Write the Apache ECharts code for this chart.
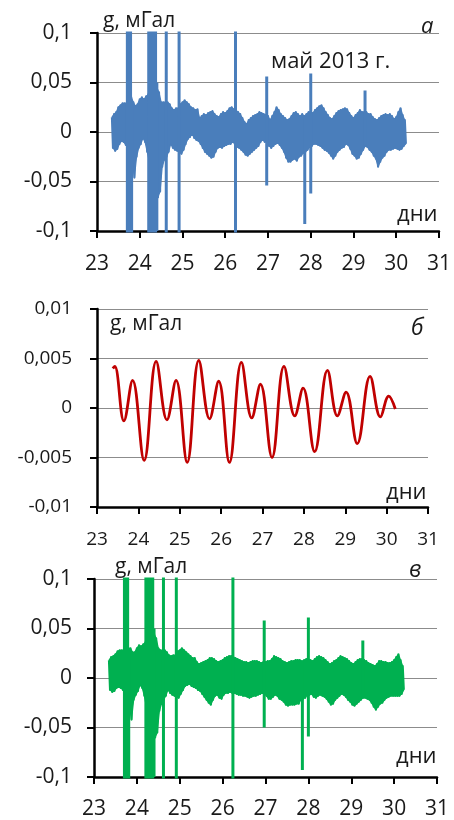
<!DOCTYPE html>
<html><head><meta charset="utf-8">
<script src="https://cdn.jsdelivr.net/npm/echarts@6/dist/echarts.min.js"></script>
<style>html,body{margin:0;padding:0;background:#fff}#c{width:454px;height:820px}</style>
</head><body><div id="c"></div>
<script>
// sampling grid of the noisy records (days, May 2013)
const tStart = 23.35, tStep = 0.05;
// panel а: upper / lower envelope of the raw record (without spikes), mGal
const aHi = [
 0.015,0.018,0.020,0.025,0.027,0.029,0.029,0.029,0.030,0.035,
 0.030,0.026,0.028,0.033,0.035,0.033,0.036,0.038,0.040,0.042,
 0.044,0.045,0.040,0.030,0.030,0.030,0.030,0.028,0.024,0.022,
 0.024,0.024,0.028,0.030,0.032,0.030,0.028,0.025,0.024,0.022,
 0.023,0.014,0.016,0.018,0.017,0.019,0.020,0.021,0.018,0.016,
 0.015,0.018,0.020,0.019,0.021,0.024,0.025,0.023,0.022,0.020,
 0.018,0.014,0.010,0.008,0.012,0.014,0.016,0.017,0.018,0.020,
 0.019,0.018,0.017,0.016,0.012,0.016,0.020,0.025,0.022,0.018,
 0.016,0.014,0.012,0.013,0.016,0.019,0.020,0.018,0.016,0.018,
 0.016,0.018,0.020,0.020,0.019,0.022,0.024,0.026,0.027,0.024,
 0.020,0.017,0.014,0.013,0.016,0.019,0.021,0.022,0.023,0.024,
 0.023,0.019,0.016,0.014,0.017,0.019,0.022,0.020,0.020,0.020,
 0.018,0.018,0.015,0.013,0.012,0.014,0.016,0.017,0.018,0.017,
 0.018,0.016,0.013,0.015,0.020,0.024,0.017,0.012];
const aLo = [
 -0.016,-0.019,-0.017,-0.012,-0.009,-0.010,-0.013,-0.014,-0.015,-0.030,
 -0.046,-0.025,-0.016,-0.012,-0.006,-0.010,-0.020,-0.030,-0.035,-0.040,
 -0.045,-0.066,-0.060,-0.035,-0.028,-0.025,-0.020,-0.012,-0.016,-0.018,
 -0.019,-0.020,-0.022,-0.018,-0.012,-0.007,-0.005,-0.002,-0.006,-0.008,
 -0.009,-0.012,-0.016,-0.020,-0.022,-0.024,-0.026,-0.025,-0.020,-0.016,
 -0.015,-0.016,-0.014,-0.013,-0.012,-0.012,-0.010,-0.012,-0.015,-0.016,
 -0.018,-0.020,-0.023,-0.024,-0.022,-0.020,-0.018,-0.016,-0.014,-0.010,
 -0.008,-0.010,-0.009,-0.014,-0.016,-0.014,-0.012,-0.011,-0.013,-0.016,
 -0.020,-0.026,-0.030,-0.030,-0.028,-0.027,-0.029,-0.025,-0.024,-0.021,
 -0.020,-0.018,-0.015,-0.014,-0.012,-0.012,-0.013,-0.014,-0.016,-0.018,
 -0.019,-0.021,-0.024,-0.027,-0.024,-0.020,-0.018,-0.016,-0.015,-0.012,
 -0.013,-0.017,-0.022,-0.024,-0.027,-0.026,-0.022,-0.018,-0.014,-0.015,
 -0.018,-0.020,-0.024,-0.027,-0.035,-0.030,-0.026,-0.024,-0.020,-0.018,
 -0.018,-0.017,-0.016,-0.017,-0.018,-0.017,-0.014,-0.012];
// panel а: spikes (day, top, bottom)
const aSpikeT  = [23.71,23.735,23.76,23.785,23.81,24.21,24.23,24.25,24.27,24.29,24.31,24.33,24.35,24.37,24.40,24.62,24.92,26.24,26.97,27.86,28.00,29.27];
const aSpikeHi = [0.15,0.15,0.15,0.15,0.03,0.15,0.15,0.15,0.15,0.15,0.15,0.15,0.15,0.15,0.05,0.15,0.15,0.15,0.056,0.016,0.059,0.042];
const aSpikeLo = [-0.15,-0.15,-0.15,-0.15,-0.15,-0.15,-0.15,-0.15,-0.15,-0.15,-0.15,-0.15,-0.15,-0.15,-0.10,-0.15,-0.15,-0.15,-0.054,-0.093,-0.062,-0.014];
// panel б: tidal residual
const bDays = [23.38,23.43,23.65,23.86,24.14,24.43,24.69,24.91,25.18,25.46,25.72,25.94,26.20,26.49,26.74,26.95,27.23,27.52,27.78,27.98,28.26,28.57,28.81,29.02,29.29,29.60,29.85,30.05,30.21];
const bVals = [0.0040,0.0042,-0.0013,0.0028,-0.0053,0.0047,-0.0012,0.0028,-0.0055,0.0048,-0.0011,0.0027,-0.0055,0.0046,-0.0010,0.0024,-0.0050,0.0042,-0.0008,0.0020,-0.0044,0.0038,-0.0008,0.0016,-0.0036,0.0032,-0.0009,0.0012,-0.0001];
// panel в: corrected record envelope (without spikes)
const cHi = [
 0.018,0.021,0.022,0.024,0.027,0.028,0.028,0.028,0.029,0.030,
 0.030,0.026,0.026,0.030,0.033,0.032,0.034,0.036,0.038,0.040,
 0.042,0.045,0.040,0.030,0.028,0.028,0.028,0.026,0.023,0.022,
 0.023,0.023,0.027,0.028,0.030,0.028,0.026,0.024,0.022,0.020,
 0.020,0.016,0.014,0.015,0.016,0.017,0.018,0.020,0.020,0.019,
 0.017,0.016,0.017,0.018,0.020,0.021,0.022,0.022,0.021,0.020,
 0.019,0.018,0.017,0.016,0.016,0.015,0.016,0.017,0.017,0.017,
 0.016,0.015,0.016,0.016,0.017,0.017,0.019,0.022,0.021,0.020,
 0.019,0.017,0.016,0.015,0.016,0.017,0.017,0.018,0.018,0.018,
 0.017,0.018,0.019,0.019,0.018,0.017,0.019,0.021,0.022,0.021,
 0.020,0.018,0.016,0.014,0.015,0.017,0.018,0.020,0.022,0.021,
 0.020,0.019,0.017,0.015,0.014,0.016,0.018,0.019,0.019,0.018,
 0.017,0.015,0.014,0.013,0.012,0.014,0.017,0.017,0.016,0.016,
 0.015,0.015,0.016,0.018,0.021,0.024,0.018,0.012];
const cLo = [
 -0.012,-0.014,-0.013,-0.010,-0.009,-0.010,-0.012,-0.012,-0.014,-0.028,
 -0.042,-0.022,-0.017,-0.013,-0.007,-0.010,-0.018,-0.030,-0.035,-0.040,
 -0.045,-0.060,-0.055,-0.033,-0.026,-0.022,-0.018,-0.012,-0.015,-0.017,
 -0.018,-0.019,-0.020,-0.016,-0.012,-0.008,-0.007,-0.006,-0.008,-0.009,
 -0.010,-0.012,-0.013,-0.016,-0.019,-0.022,-0.025,-0.027,-0.022,-0.018,
 -0.017,-0.020,-0.021,-0.017,-0.015,-0.015,-0.014,-0.015,-0.015,-0.016,
 -0.017,-0.017,-0.018,-0.018,-0.019,-0.020,-0.019,-0.018,-0.018,-0.017,
 -0.016,-0.015,-0.016,-0.018,-0.021,-0.021,-0.019,-0.017,-0.018,-0.021,
 -0.022,-0.024,-0.027,-0.028,-0.027,-0.027,-0.027,-0.026,-0.026,-0.022,
 -0.021,-0.020,-0.017,-0.017,-0.016,-0.019,-0.020,-0.018,-0.017,-0.018,
 -0.019,-0.021,-0.024,-0.027,-0.026,-0.022,-0.020,-0.018,-0.016,-0.017,
 -0.019,-0.022,-0.024,-0.027,-0.028,-0.026,-0.024,-0.022,-0.020,-0.020,
 -0.021,-0.022,-0.025,-0.029,-0.032,-0.029,-0.026,-0.025,-0.022,-0.020,
 -0.019,-0.018,-0.018,-0.018,-0.018,-0.018,-0.016,-0.012];
// panel в: spikes (day, top, bottom)
const cSpikeT  = [23.71,23.735,23.76,23.785,23.81,24.21,24.23,24.25,24.27,24.29,24.31,24.33,24.35,24.37,24.40,24.62,24.92,26.24,26.97,27.86,28.00,29.27];
const cSpikeHi = [0.15,0.15,0.15,0.15,0.03,0.15,0.15,0.15,0.15,0.15,0.15,0.15,0.15,0.15,0.05,0.15,0.15,0.15,0.058,0.017,0.061,0.038];
const cSpikeLo = [-0.15,-0.15,-0.15,-0.15,-0.15,-0.15,-0.15,-0.15,-0.15,-0.15,-0.15,-0.15,-0.15,-0.15,-0.10,-0.15,-0.15,-0.15,-0.050,-0.093,-0.059,-0.020];
const xMin = 23, xMax = 31, xStep = 1;
const yRangeAC = [-0.1, 0.1, 0.05];
const yRangeB = [-0.01, 0.01, 0.005];

function upper(hi) { return hi.map((v, i) => [tStart + i * tStep, v]); }
function lower(lo) { return lo.map((v, i) => [tStart + i * tStep + tStep / 2, v]); }
function band(hi, lo) {
  const out = [];
  for (let i = 0; i < hi.length; i++) {
    out.push([tStart + i * tStep, hi[i]]);
    out.push([tStart + i * tStep + tStep / 2, lo[i]]);
  }
  return out;
}
function spikes(ts, hs, ls) {
  const out = [];
  ts.forEach((t, i) => { out.push([t, hs[i]]); out.push([t, ls[i]]); out.push([t, null]); });
  return out;
}
function fillSeries(pts, color, gi) {
  return {type:'line', xAxisIndex:gi, yAxisIndex:gi, data:pts, showSymbol:false, clip:true, silent:true,
    lineStyle:{color:color, width:1.2}, areaStyle:{color:color, opacity:1, origin:0}, itemStyle:{color:color}};
}
function zigSeries(pts, color, gi) {
  return {type:'line', xAxisIndex:gi, yAxisIndex:gi, data:pts, showSymbol:false, clip:true, silent:true,
    lineStyle:{color:color, width:2.2, join:'round'}, itemStyle:{color:color}};
}
function spikeSeries(pts, color, gi) {
  return {type:'line', xAxisIndex:gi, yAxisIndex:gi, data:pts, showSymbol:false, clip:true, silent:true,
    connectNulls:false, lineStyle:{color:color, width:3, cap:'butt'}, itemStyle:{color:color}};
}
const FONT = '"Open Sans", "DejaVu Sans", sans-serif';
const TXT = '#1a1a1a';
function fmt(v) { return String(Math.round(v * 100000) / 100000).replace('.', ','); }
function xAx(idx, fs, margin) {
  return {type:'value', gridIndex:idx, min:xMin, max:xMax, interval:xStep,
    axisLine:{onZero:false, lineStyle:{color:'#000', width:2.5}},
    axisTick:{show:true, inside:false, length:7, lineStyle:{color:'#000', width:2}},
    axisLabel:{fontSize:fs, fontFamily:FONT, color:TXT, margin:margin},
    splitLine:{show:false}};
}
function yAx(idx, r, fs, margin) {
  return {type:'value', gridIndex:idx, min:r[0], max:r[1], interval:r[2],
    axisLine:{show:true, onZero:false, lineStyle:{color:'#000', width:2.5}},
    axisTick:{show:true, inside:false, length:7, lineStyle:{color:'#000', width:2}},
    axisLabel:{fontSize:fs, fontFamily:FONT, color:TXT, margin:margin, formatter:fmt},
    splitLine:{show:true, lineStyle:{color:'#8c8c8c', width:1}}};
}
function txt(x, y, s, fs, italic) {
  return {type:'text', left:x, top:y, z:100,
    style:{text:s, fontSize:fs, fontFamily:FONT, fontStyle:italic?'italic':'normal', fill:TXT}};
}
const BLUE = '#4a7ebb', RED = '#c00000', GREEN = '#00b050';
const chart = echarts.init(document.getElementById('c'), null, {renderer:'canvas'});
chart.setOption({
  animation:false,
  backgroundColor:'#fff',
  grid:[
    {left:97, top:33, width:344, height:198},
    {left:97, top:309, width:331, height:198},
    {left:94, top:579, width:343, height:199}
  ],
  xAxis:[xAx(0,21,23), xAx(1,19,23), xAx(2,21,22)],
  yAxis:[yAx(0,yRangeAC,21,25), yAx(1,yRangeB,19,25), yAx(2,yRangeAC,21,22)],
  series:[
    fillSeries(upper(aHi), BLUE, 0),
    fillSeries(lower(aLo), BLUE, 0),
    zigSeries(band(aHi, aLo), BLUE, 0),
    spikeSeries(spikes(aSpikeT, aSpikeHi, aSpikeLo), BLUE, 0),
    {type:'line', xAxisIndex:1, yAxisIndex:1, data:bDays.map((d,i)=>[d,bVals[i]]), showSymbol:false, smooth:0.4, clip:true,
      lineStyle:{color:RED, width:2.8}, itemStyle:{color:RED}},
    fillSeries(upper(cHi), GREEN, 2),
    fillSeries(lower(cLo), GREEN, 2),
    zigSeries(band(cHi, cLo), GREEN, 2),
    spikeSeries(spikes(cSpikeT, cSpikeHi, cSpikeLo), GREEN, 2)
  ],
  graphic:[
    txt(103, 11, 'g, мГал', 21),
    txt(421, 16, 'а', 22, true),
    txt(271, 51, 'май 2013 г.', 22),
    txt(397, 204, 'дни', 22),
    txt(110, 314, 'g, мГал', 21),
    txt(411, 317, 'б', 23, true),
    txt(386, 482, 'дни', 22),
    txt(115, 557, 'g, мГал', 21),
    txt(409, 559, 'в', 23, true),
    txt(396, 746, 'дни', 22)
  ]
});
</script></body></html>
